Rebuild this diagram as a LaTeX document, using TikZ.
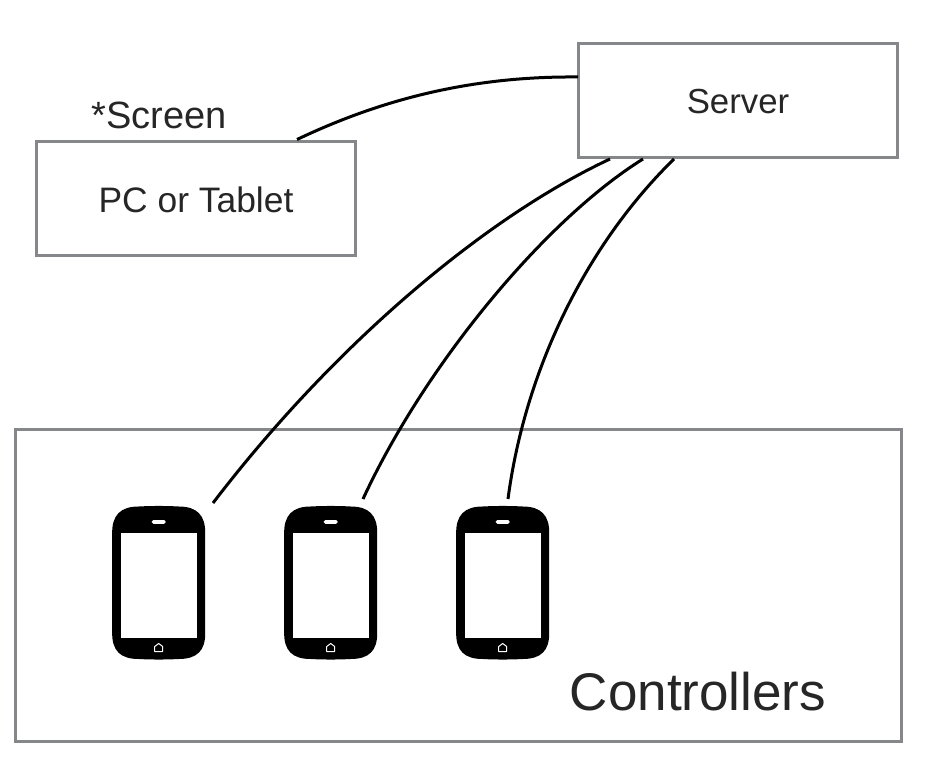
\documentclass[tikz,border=0pt]{standalone}
\usepackage{fontspec}
\setmainfont{Liberation Sans}
\definecolor{boxgray}{HTML}{85878B}
\tikzset{
  box/.style={draw=boxgray,line width=3pt,fill=white,inner sep=0pt,outer sep=0pt,anchor=north west},
  lbl/.style={inner sep=0pt,text=black!85},
  wire/.style={draw=black,line width=3pt},
  phonebody/.style={fill=black,draw=none},
  phonescreen/.style={fill=white,draw=none},
}
\newcommand{\phonepic}[1]{%
  \begin{scope}[shift={(#1,0)}]
    \path[phonebody] (-46.5,534) .. controls (-47,515) and (-38,506.5) .. (-20,506.5)
      .. controls (-8,505.8) and (8,505.8) .. (20,506.5)
      .. controls (38,506.5) and (47,515) .. (46.5,534)
      -- (46.5,632) .. controls (47,651) and (38,659) .. (20,659)
      .. controls (8,659.7) and (-8,659.7) .. (-20,659)
      .. controls (-38,659) and (-47,651) .. (-46.5,632) -- cycle;
    \path[phonescreen] (-37.5,532.7) rectangle (38,637.7);
    \path[phonescreen,rounded corners=1.6pt] (-7,520) rectangle (7,523.8);
    \draw[white,line width=1pt,line join=round] (-4,651.5) -- (-4,646.5) -- (0,643.5) -- (4,646.5) -- (4,651.5) -- cycle;
  \end{scope}%
}
\begin{document}
\begin{tikzpicture}[x=1pt,y=-1pt]
\useasboundingbox (0,0) rectangle (930,762);
\node[box,minimum width=886pt,minimum height=312pt] (ctrl) at (15,429.5) {};
\node[box,minimum width=319pt,minimum height=114pt] (pc) at (36.5,141.5) {};
\node[box,minimum width=319pt,minimum height=114pt] (server) at (578,43.5) {};
\phonepic{158.7}
\phonepic{330.7}
\phonepic{502.7}
\node[lbl,font=\fontsize{34.8}{40}\selectfont] (serverlabel) at (738,102) {Server};
\node[lbl,font=\fontsize{35.4}{40}\selectfont] (pclabel) at (196,200) {PC or Tablet};
\node[lbl,font=\fontsize{38}{44}\selectfont] (screenlabel) at (159,115) {*Screen};
\node[lbl,font=\fontsize{53}{60}\selectfont] (ctrllabel) at (698,692) {Controllers};
\coordinate (s0) at (578,77);
\coordinate (s1) at (610,159);
\coordinate (s2) at (643,159);
\coordinate (s3) at (674,159);
\coordinate (p0) at (297,139.5);
\coordinate (p1) at (213,503);
\coordinate (p2) at (363,499);
\coordinate (p3) at (508,499);
\draw[wire] (s0) .. controls (470,76) and (380,100) .. (p0);
\draw[wire] (s1) .. controls (480,220) and (330,350) .. (p1);
\draw[wire] (s2) .. controls (545,220) and (425,365) .. (p2);
\draw[wire] (s3) .. controls (586,245) and (525,370) .. (p3);
\end{tikzpicture}
\end{document}
